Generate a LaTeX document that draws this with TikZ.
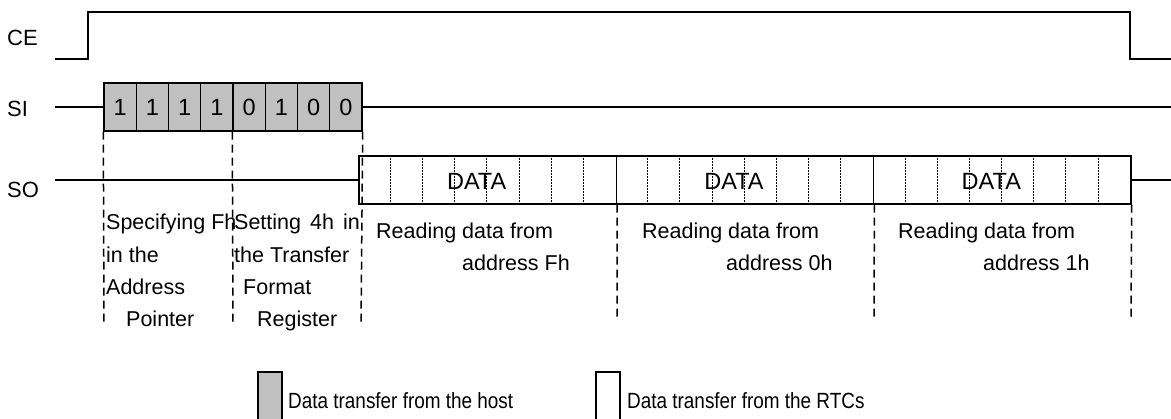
\documentclass[tikz,border=0pt]{standalone}
\usepackage{fontspec}
\setmainfont{Liberation Sans}
\newfontfamily\legfont[FakeStretch=0.86]{Liberation Sans}
\definecolor{hostgray}{HTML}{C0C0C0}
\begin{document}
\begin{tikzpicture}[x=1pt,y=-1pt,
  sig/.style={line width=1.5pt},
  dline/.style={line width=1.5pt, dash pattern=on 8pt off 5pt},
  dotl/.style={line width=1.1pt, dash pattern=on 1.3pt off 1.7pt},
  hostcell/.style={draw, line width=1.4pt, fill=hostgray, minimum width=32.25pt, minimum height=48pt, inner sep=0pt, font=\fontsize{23.5}{26}\selectfont},
  rtcblock/.style={draw, line width=1.5pt, minimum width=257.33pt, minimum height=48pt, inner sep=0pt},
  signame/.style={anchor=base west, inner sep=0pt, font=\fontsize{22}{26}\selectfont},
  note/.style={anchor=base west, inner sep=0pt, font=\fontsize{21.5}{26}\selectfont},
  legtext/.style={anchor=base west, inner sep=0pt, font=\legfont\fontsize{22}{26}\selectfont},
  legbox/.style={draw, line width=1.4pt, minimum width=24pt, minimum height=48pt, inner sep=0pt}
]
\useasboundingbox (0,0) rectangle (1171,419);

% signal names
\node[signame] (ce) at (7,46) {CE};
\node[signame] (si) at (7,117) {SI};
\node[signame] (so) at (7,198) {SO};

% CE waveform
\coordinate (ce0) at (55,59);
\coordinate (ceup0) at (88,59);
\coordinate (ceup1) at (88,12);
\coordinate (cedn0) at (1130,12);
\coordinate (cedn1) at (1130,59);
\coordinate (ce1) at (1171,59);
\draw[sig] (ce0) -- (ceup0) -- (ceup1) -- (cedn0) -- (cedn1) -- (ce1);

% SI cells
\foreach \b [count=\i] in {1,1,1,1,0,1,0,0}{
  \node[hostcell] (c\i) at ({104+16.125+32.25*(\i-1)},107) {\b};
}
\coordinate (si0) at (55,107);
\coordinate (si1) at (1171,107);
\draw[sig] (si0) -- (c1.west);
\draw[sig] (c8.east) -- (si1);

% SO data blocks
\foreach \i in {1,2,3}{
  \node[rtcblock] (d\i) at ({359+128.67+257.33*(\i-1)},180) {};
  \foreach \k in {1,...,7}{
    \draw[dotl] ([xshift={32.17*\k}]d\i.north west) -- ([xshift={32.17*\k}]d\i.south west);
  }
  \node[font=\fontsize{23.5}{26}\selectfont, inner sep=0pt] (t\i) at ([xshift=-11pt,yshift=-1pt]d\i.center) {DATA};
}
\coordinate (so0) at (55,180);
\coordinate (so1) at (1171,180);
\draw[sig] (so0) -- (d1.west);
\draw[sig] (d3.east) -- (so1);

% dashed markers
\coordinate (e1) at (104,325);
\coordinate (e2) at (233,325);
\coordinate (e3) at (361,325);
\draw[dline] (c1.south west) -- (e1);
\draw[dline] (c5.south west) -- (e2);
\draw[dline] (c8.south east) -- (e3);
\coordinate (f1) at (617,318);
\coordinate (f2) at (874,318);
\coordinate (f3) at (1131,318);
\draw[dline] (d1.south east) -- (f1);
\draw[dline] (d2.south east) -- (f2);
\draw[dline] (d3.south east) -- (f3);

% notes
\node[note] (n1) at (106,230) {Specifying Fh};
\node[note] (n2) at (106,262.5) {in the};
\node[note] (n3) at (106,295) {Address};
\node[note] (n4) at (126,327) {Pointer};
\node[note] (m1) at (234,230) {Setting\hspace{9pt}4h\hspace{9pt}in};
\node[note] (m2) at (234,262.5) {the Transfer};
\node[note] (m3) at (243,295) {Format};
\node[note] (m4) at (257,327) {Register};
\node[note] (r1) at (376,239) {Reading data from};
\node[note] (r2) at (462,271) {address Fh};
\node[note] (s1) at (642,239) {Reading data from};
\node[note] (s2) at (726,271) {address 0h};
\node[note] (u1) at (898,239) {Reading data from};
\node[note] (u2) at (983,271) {address 1h};

% legend
\node[legbox, fill=hostgray] (lg1) at (270,396) {};
\node[legtext] (lt1) at (288,409) {Data transfer from the host};
\node[legbox] (lg2) at (608,396) {};
\node[legtext] (lt2) at (627,409) {Data transfer from the RTCs};
\end{tikzpicture}
\end{document}
